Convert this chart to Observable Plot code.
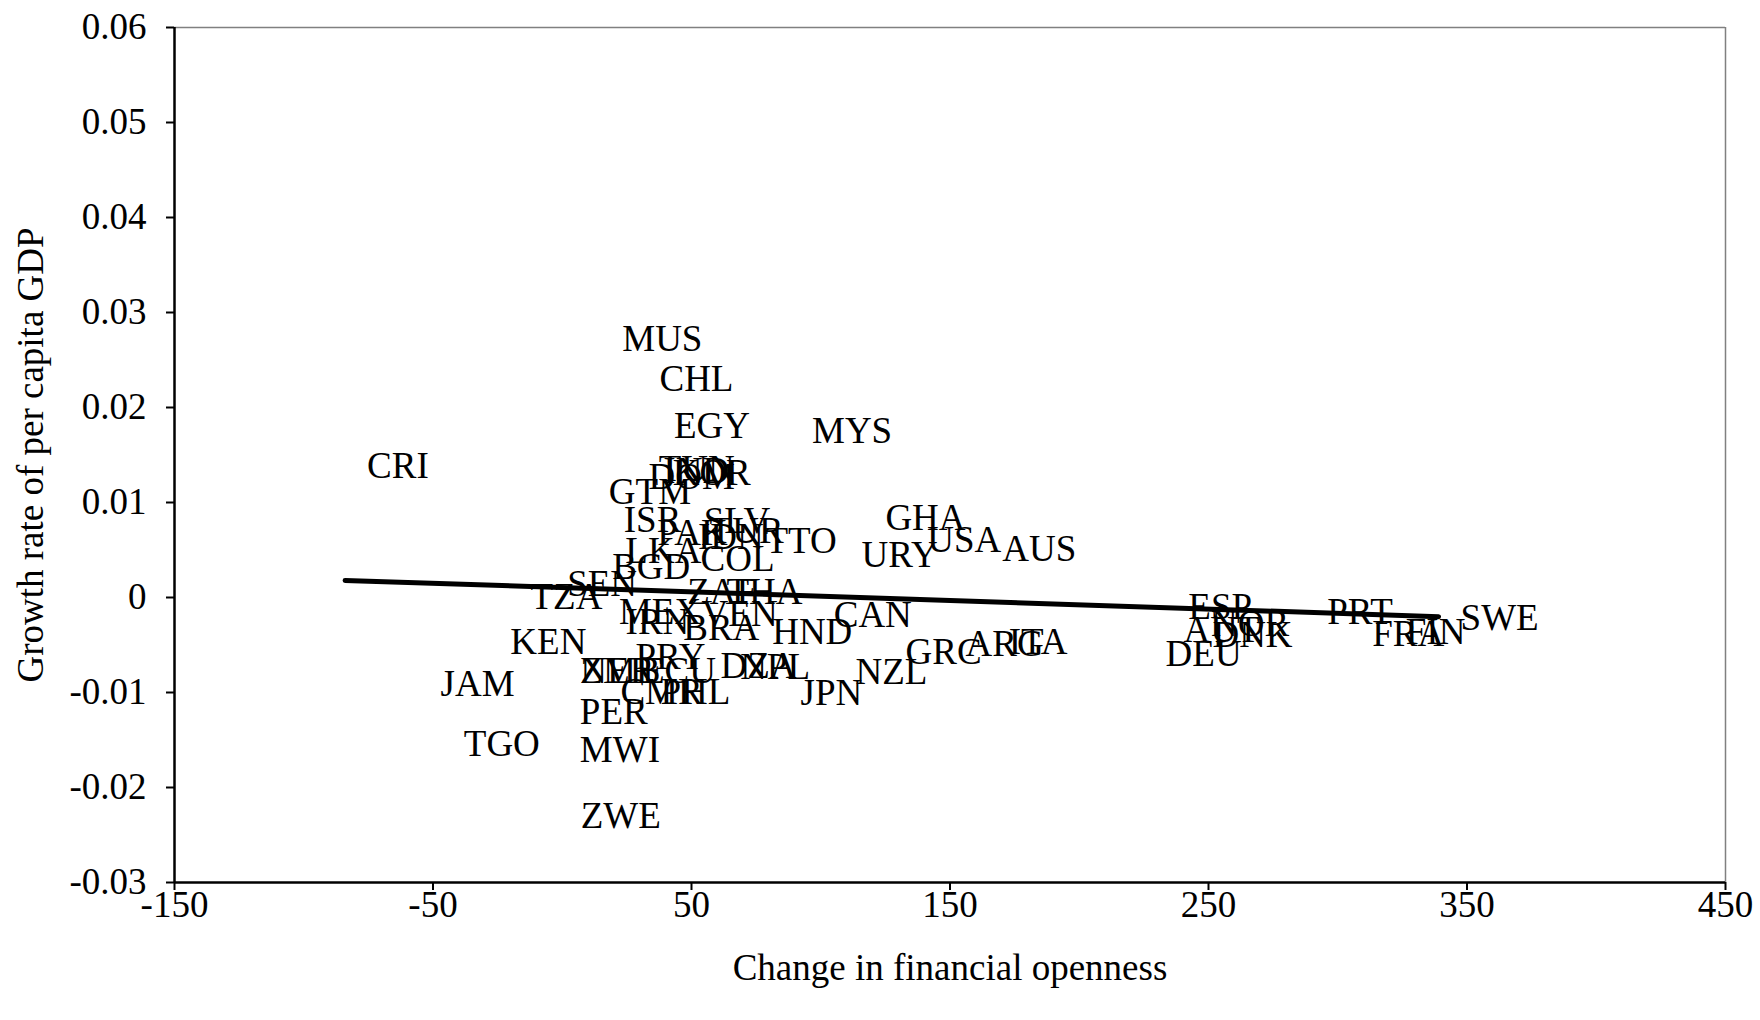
<!DOCTYPE html>
<html>
<head>
<meta charset="utf-8">
<script src="https://cdn.jsdelivr.net/npm/d3@7"></script>
<script src="https://cdn.jsdelivr.net/npm/@observablehq/plot@0.6"></script>
<style>
  html, body { margin: 0; padding: 0; background: #fff; }
  #chart svg { display: block; }
</style>
</head>
<body>
<div id="chart"></div>
<script>
// Country codes, change in financial openness, and growth rate of per capita GDP
const countries = [
  "MUS","CHL","EGY","MYS","CRI","TUN","IND","KOR","DOM","GTM",
  "ISR","SLV","TUR","PAK","IDN","TTO","LKA","COL","BGD","SEN",
  "TZA","ZAF","THA","MEX","VEN","BRA","IRN","HND","CAN","KEN",
  "PRY","ZMB","NER","ECU","DZA","NPL","CMR","PHL","JAM","PER",
  "TGO","MWI","ZWE","JPN","NZL","GRC","ARG","ITA","GHA","USA",
  "AUS","URY","ESP","AUT","NOR","DNK","DEU","PRT","FRA","FIN",
  "SWE"
];
const openness = [
  14.7, 29.1, 34.7, 88.1, -84, 28.8, 30.6, 34.2, 24.9, 9.5,
  15.3, 46.2, 48.5, 28.2, 44.0, 70.1, 15.9, 45.0, 10.8, -6.6,
  -20.8, 39.8, 55.0, 13.4, 45.4, 38.3, 16.0, 72.7, 96.5, -28.6,
  19.8, -1.5, -1.5, 22.3, 52.7, 60.3, 14.0, 29.5, -55.6, -1.7,
  -46.6, -1.7, -1.4, 83.7, 104.9, 124.3, 147.5, 164.2, 116.5, 132.7,
  161.7, 107.3, 233.7, 231.8, 242.5, 243.0, 224.9, 287.4, 304.8, 317.8,
  339.0
];
const growth = [
  0.0272, 0.0230, 0.0180, 0.0175, 0.0138, 0.0135, 0.0133, 0.0131, 0.0127, 0.0111,
  0.0081, 0.0080, 0.0070, 0.0068, 0.0063, 0.0059, 0.0049, 0.0040, 0.0032, 0.0014,
  0.0000, 0.0006, 0.0006, -0.0015, -0.0018, -0.0032, -0.0026, -0.0036, -0.0019, -0.0047,
  -0.0063, -0.0078, -0.0078, -0.0078, -0.0072, -0.0073, -0.0100, -0.0100, -0.0091, -0.0121,
  -0.0154, -0.0161, -0.0230, -0.0101, -0.0079, -0.0058, -0.0049, -0.0047, 0.0083, 0.0060,
  0.0051, 0.0045, -0.0010, -0.0034, -0.0028, -0.0040, -0.0060, -0.0015, -0.0039, -0.0036,
  -0.0022
];
const xTicks = [-150, -50, 50, 150, 250, 350, 450];
const yTicks = [-0.03, -0.02, -0.01, 0, 0.01, 0.02, 0.03, 0.04, 0.05, 0.06];
const xTitle = "Change in financial openness";
const yTitle = "Growth rate of per capita GDP";

const data = countries.map((c, i) => ({country: c, x: openness[i], y: growth[i]}));

// plain ASCII hyphen for negatives, no trailing zeros
const fmt = d => String(+(+d).toFixed(2));
const serif = "'Liberation Serif', 'Times New Roman', Times, serif";
const size = 37;

const chart = Plot.plot({
  width: 1760,
  height: 1020,
  marginLeft: 174,
  marginRight: 35,
  marginTop: 27,
  marginBottom: 138,
  style: {fontFamily: serif, fontSize: `${size}px`, color: "#000", background: "#fff"},
  x: {domain: [-150, 450]},
  y: {domain: [-0.03, 0.06]},
  marks: [
    // plot area border: grey on top and right, black axes on left and bottom
    Plot.ruleY([0.06], {stroke: "#808080", strokeWidth: 1.5}),
    Plot.ruleX([450], {stroke: "#808080", strokeWidth: 1.5}),
    Plot.axisY({ticks: yTicks, tickFormat: fmt, tickSize: 8, tickPadding: 20, label: null,
      stroke: "#000", strokeWidth: 2, fill: "#000", fontSize: size}),
    Plot.axisX({ticks: xTicks, tickFormat: fmt, tickSize: 8, tickPadding: 0, label: null,
      stroke: "#000", strokeWidth: 2, fill: "#000", fontSize: size}),
    Plot.ruleX([-150], {stroke: "#000", strokeWidth: 2.5}),
    Plot.ruleY([-0.03], {stroke: "#000", strokeWidth: 2.5}),
    // country labels placed to the right of each observation
    Plot.text(data, {x: "x", y: "y", text: "country", textAnchor: "start", dx: 22,
      fontSize: size, fill: "#000"}),
    // least-squares trend line
    Plot.linearRegressionY(data, {x: "x", y: "y", ci: 0, stroke: "#000", strokeWidth: 5}),
    // axis titles
    Plot.text([yTitle], {frameAnchor: "left", textAnchor: "middle", dx: -143, rotate: -90,
      fontSize: size, fill: "#000"}),
    Plot.text([xTitle], {frameAnchor: "bottom", textAnchor: "middle", dy: 97,
      fontSize: size, fill: "#000"})
  ]
});

document.getElementById("chart").appendChild(chart);
</script>
</body>
</html>
